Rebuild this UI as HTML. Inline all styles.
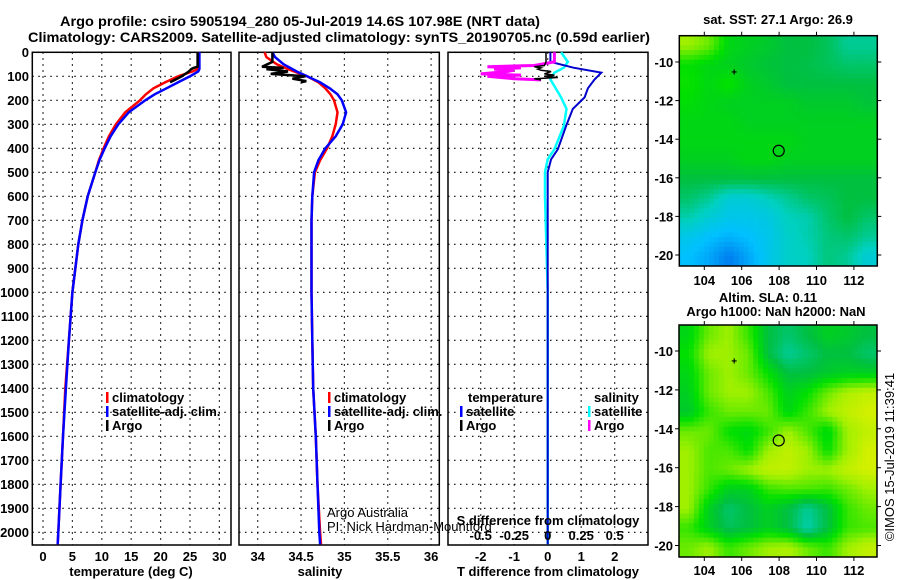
<!DOCTYPE html>
<html><head><meta charset="utf-8"><style>
html,body{margin:0;padding:0;background:#fff;}
svg{display:block;font-family:"Liberation Sans",Arial,sans-serif;}
.b{font-weight:bold;font-size:13px;}
.n{font-weight:normal;font-size:13px;}
.t{font-weight:bold;font-size:14px;}
</style></head><body>
<svg id="c" width="900" height="580" viewBox="0 0 900 580"></svg>
<script>
// ---------- data ----------
const depths = [0,20,50,70,80,100,125,150,175,200,250,300,350,400,450,500,600,700,800,1000,1200,1400,1600,1800,2000,2050];
const satT  = [26.6,26.6,26.6,26.6,26.4,25.0,23.0,21.0,19.0,17.4,14.6,12.8,11.5,10.5,9.6,8.9,7.6,6.7,6.0,5.0,4.4,3.9,3.4,3.0,2.6,2.5];
const climT = [26.5,26.5,26.5,26.3,25.4,23.0,20.8,18.8,17.5,16.5,14.0,12.4,11.2,10.3,9.5,8.9,7.6,6.7,6.0,5.0,4.4,3.8,3.4,3.0,2.6,2.5];
const argoDepths = [0,20,40,60,65,70,80,90,100,110,120,125];
const argoT = [26.3,26.3,26.3,26.3,25.6,25.2,24.8,24.2,23.6,22.8,22.0,21.6];
const satS  = [34.17,34.2,34.3,34.4,34.45,34.57,34.72,34.83,34.92,34.97,35.02,34.98,34.9,34.78,34.7,34.65,34.63,34.62,34.62,34.62,34.63,34.64,34.67,34.69,34.71,34.72];
const climS = [34.08,34.1,34.22,34.35,34.42,34.57,34.7,34.78,34.84,34.88,34.92,34.9,34.86,34.8,34.72,34.66,34.63,34.62,34.62,34.62,34.63,34.64,34.67,34.69,34.72,34.73];
const argoS = [34.17,34.17,34.17,34.05,34.3,34.1,34.35,34.15,34.55,34.4,34.56,34.5];
const dDepths = [0,40,64,85,113,150,188,236,307,404,446,500,600,1000,1500,2050];
const satTdiff = [0.08,0.08,0.77,1.6,1.4,1.2,1.1,0.75,0.55,0.3,0.1,0.0,0.0,0.0,0.0,0.0];
const satSdiff = [0.1,0.15,0.12,0.05,0.02,0.06,0.1,0.14,0.12,0.05,0.0,-0.02,-0.02,0.0,0.0,0.0];
const argoDiffDepths = [0,40,55,60,65,70,75,80,90,95,100,105,110,115];
const argoTdiff = [-0.05,-0.05,-0.1,-0.4,-0.2,-0.3,-0.2,0.1,-0.1,0.2,-0.1,0.3,-0.4,-0.2];
const argoSdiff = [0.05,0.05,-0.1,-0.45,-0.2,-0.4,-0.25,-0.3,-0.5,-0.2,-0.45,-0.35,-0.25,-0.05];
const depthTicks = [0,100,200,300,400,500,600,700,800,900,1000,1100,1200,1300,1400,1500,1600,1700,1800,1900,2000];
const tempTicks = [0,5,10,15,20,25,30];
const salTicks = [34,34.5,35,35.5,36];
const tdTicks = [-2,-1,0,1,2];
const sdTicks = [-0.5,-0.25,0,0.25,0.5];
const lonTicks = [104,106,108,110,112];
const latTicks = [-10,-12,-14,-16,-18,-20];
const sstGrid = [
[.8,.75,.62,.6,.58,.55,.55,.52,.45,.45],
[.65,.62,.6,.58,.56,.55,.54,.52,.5,.5],
[.66,.62,.66,.6,.58,.55,.55,.55,.55,.55],
[.64,.62,.6,.6,.6,.6,.58,.58,.58,.56],
[.62,.62,.62,.6,.6,.6,.6,.6,.6,.6],
[.62,.62,.62,.62,.62,.62,.6,.6,.6,.6],
[.6,.6,.6,.62,.62,.6,.6,.6,.6,.6],
[.55,.55,.55,.55,.55,.55,.55,.55,.55,.55],
[.5,.45,.35,.35,.4,.45,.5,.52,.55,.55],
[.42,.35,.3,.3,.32,.4,.42,.5,.55,.5],
[.3,.25,.22,.25,.3,.38,.42,.48,.5,.45],
[.25,.2,.12,.2,.3,.38,.4,.48,.45,.35]];
const slaGrid = [
[.62,.75,.8,.7,.55,.5,.55,.6,.58,.55],
[.65,.8,.8,.75,.55,.45,.5,.55,.55,.5],
[.62,.75,.8,.75,.65,.55,.55,.58,.6,.6],
[.6,.75,.8,.8,.72,.6,.65,.75,.82,.85],
[.58,.7,.75,.75,.75,.62,.7,.8,.85,.88],
[.75,.75,.65,.62,.7,.8,.72,.62,.8,.85],
[.8,.72,.72,.65,.8,.85,.8,.65,.8,.88],
[.8,.72,.75,.8,.85,.85,.8,.8,.85,.88],
[.8,.7,.6,.6,.7,.72,.72,.7,.75,.8],
[.8,.6,.5,.55,.6,.55,.45,.55,.7,.75],
[.7,.6,.52,.55,.6,.55,.42,.55,.7,.72],
[.75,.8,.7,.75,.8,.82,.75,.7,.8,.85]];

// ---------- helpers ----------
const svg = document.getElementById('c');
const NS = 'http://www.w3.org/2000/svg';
function mk(tag, attrs, parent, text){
  const e = document.createElementNS(NS, tag);
  for (const k in attrs) e.setAttribute(k, attrs[k]);
  if (text !== undefined) e.textContent = text;
  (parent||svg).appendChild(e);
  return e;
}
const TOP = 52.3, BOT = 545, PXM = 0.24;
const yD = d => TOP + d*PXM;
const xT = v => 43 + v*5.88;
const xS = v => 257.7 + (v-34)*86.7;
const xTD = v => 547.7 + v*33.5;
const xSD = v => 547.7 + v*134;

function linePath(xs, ds, fx){
  let p = '';
  for (let i=0;i<xs.length;i++){
    p += (i? 'L':'M') + fx(xs[i]).toFixed(1) + ',' + yD(ds[i]).toFixed(1);
  }
  return p;
}
function panel(name, x0, x1, ticks, fx){
  const g = mk('g', {});
  
  
  ticks.forEach(t => {
    const x = fx(t);
    const l = mk('line', {x1:x, x2:x, y1:TOP, y2:BOT, stroke:'#000', 'stroke-width':1.2, 'stroke-dasharray':'1.5,4.5'}, g);
    
    
  });
  depthTicks.forEach(d => {
    const l = mk('line', {x1:x0, x2:x1, y1:yD(d), y2:yD(d), stroke:'#000', 'stroke-width':1.2, 'stroke-dasharray':'1.5,4.5'}, g);
    
    
  });
  const r = mk('rect', {x:x0, y:TOP, width:x1-x0, height:BOT-TOP, fill:'none', stroke:'#000', 'stroke-width':1.5}, g);
  
  
  ticks.forEach(t => {
    const tx = mk('text', {x:fx(t), y:561, 'text-anchor':'middle', class:'b'}, g, String(t));
    
    
  });
  return g;
}
function line(g, d, color, w, name){
  const p = mk('path', {d:d, fill:'none', stroke:color, 'stroke-width':w, 'stroke-linejoin':'miter'}, g);
  
  
}
function txt(x, y, s, cls, anchor, name, extra){
  const a = {x:x, y:y, class:cls};
  if (anchor) a['text-anchor'] = anchor;
  if (extra) for (const k in extra) a[k]=extra[k];
  const t = mk('text', a, svg, s);
  
  
  return t;
}
function legendItem(x, y, color, label, name){
  const r = mk('rect', {x:x, y:y-10, width:2.5, height:11, fill:color});
  
  
  txt(x+6, y, label, 'b', null, name);
}

// ---------- titles ----------
txt(60, 26, 'Argo profile: csiro 5905194_280 05-Jul-2019 14.6S 107.98E (NRT data)', 't', null, 'chart-title', {textLength:480, lengthAdjust:'spacingAndGlyphs'});
txt(28, 42, 'Climatology: CARS2009. Satellite-adjusted climatology: synTS_20190705.nc (0.59d earlier)', 't', null, 'chart-subtitle', {textLength:622, lengthAdjust:'spacingAndGlyphs'});

depthTicks.forEach(d => {
  txt(29, yD(d)+4.5, String(d), 'b', 'end', 'y-tick-label');
});

// ---------- panel 1: temperature ----------
const g1 = panel('temperature-panel', 32.3, 231, tempTicks, xT);
line(g1, linePath(climT, depths, xT), '#f00', 2.5, 'climatology-temp-line');
line(g1, linePath(satT, depths, xT), '#00f', 2.5, 'satellite-temp-line');
line(g1, linePath(argoT, argoDepths, xT), '#000', 2.5, 'argo-temp-line');
txt(131, 576, 'temperature (deg C)', 'b', 'middle', 'x-axis-title-temperature');
legendItem(106, 402, '#f00', 'climatology', 'legend-climatology');
legendItem(106, 416, '#00f', 'satellite-adj. clim.', 'legend-satellite');
legendItem(106, 430, '#000', 'Argo', 'legend-argo');

// ---------- panel 2: salinity ----------
const g2 = panel('salinity-panel', 239, 439.3, salTicks, xS);
line(g2, linePath(climS, depths, xS), '#f00', 2.5, 'climatology-sal-line');
line(g2, linePath(satS, depths, xS), '#00f', 2.5, 'satellite-sal-line');
line(g2, linePath(argoS, argoDepths, xS), '#000', 2.5, 'argo-sal-line');
txt(320, 576, 'salinity', 'b', 'middle', 'x-axis-title-salinity');
legendItem(328, 402, '#f00', 'climatology', 'legend-climatology-sal');
legendItem(328, 416, '#00f', 'satellite-adj. clim.', 'legend-satellite-sal');
legendItem(328, 430, '#000', 'Argo', 'legend-argo-sal');
txt(327, 517, 'Argo Australia', 'n', null, 'credit-line-1');
txt(327, 531, 'PI: Nick Hardman-Mountford', 'n', null, 'credit-line-2');

// ---------- panel 3: differences ----------
const g3 = panel('difference-panel', 448, 648, tdTicks, xTD);
line(g3, linePath(satSdiff, dDepths, xSD), '#0ff', 2.5, 'satellite-sal-diff-line');
line(g3, linePath(satTdiff, dDepths, xTD), '#00c', 2, 'satellite-temp-diff-line');
line(g3, linePath(argoSdiff, argoDiffDepths, xSD), '#f0f', 3, 'argo-sal-diff-line');
line(g3, linePath(argoTdiff, argoDiffDepths, xTD), '#000', 1.5, 'argo-temp-diff-line');
sdTicks.forEach(t => txt(xSD(t), 540, String(t), 'b', 'middle', 's-diff-tick-label'));
txt(548, 525, 'S difference from climatology', 'b', 'middle', 's-diff-axis-title');
txt(548, 576, 'T difference from climatology', 'b', 'middle', 'x-axis-title-tdiff');
txt(468, 402, 'temperature', 'b', null, 'legend-temperature-header');
txt(594, 402, 'salinity', 'b', null, 'legend-salinity-header');
legendItem(460, 416, '#00f', 'satellite', 'legend-temp-satellite');
legendItem(460, 430, '#000', 'Argo', 'legend-temp-argo');
legendItem(588, 416, '#0ff', 'satellite', 'legend-sal-satellite');
legendItem(588, 430, '#f0f', 'Argo', 'legend-sal-argo');

// ---------- maps ----------
const stops = [[0,[0,64,224]],[0.25,[0,192,255]],[0.4,[0,208,192]],[0.55,[0,192,64]],[0.65,[0,224,0]],[0.8,[160,240,0]],[0.9,[224,240,0]],[1,[240,192,0]]];
function cmap(v){
  for (let i=1;i<stops.length;i++){
    if (v <= stops[i][0]){
      const a=stops[i-1], b=stops[i], f=(v-a[0])/(b[0]-a[0]);
      return 'rgb(' + a[1].map((c,j)=>Math.round(c+(b[1][j]-c)*f)).join(',') + ')';
    }
  }
  return 'rgb(240,192,0)';
}
function sample(grid, fr, fc){
  const rows = grid.length, cols = grid[0].length;
  const r = Math.min(Math.max(fr-0.5,0),rows-1), c = Math.min(Math.max(fc-0.5,0),cols-1);
  const r0 = Math.floor(r), c0 = Math.floor(c), r1 = Math.min(r0+1,rows-1), c1 = Math.min(c0+1,cols-1);
  const dr = r-r0, dc = c-c0;
  return grid[r0][c0]*(1-dr)*(1-dc)+grid[r0][c1]*(1-dr)*dc+grid[r1][c0]*dr*(1-dc)+grid[r1][c1]*dr*dc;
}
function map(name, grid, x0, y0, x1, y1, lat10y, latPx, labY){
  const g = mk('g', {});
  
  
  const rows = grid.length, cols = grid[0].length, SUB = 4;
  const cw = (x1-x0)/(cols*SUB), ch = (y1-y0)/(rows*SUB);
  for (let ri=0; ri<rows*SUB; ri++) for (let ci=0; ci<cols*SUB; ci++){
    const v = sample(grid, (ri+0.5)/SUB, (ci+0.5)/SUB);
    const c = mk('rect', {x:(x0+ci*cw).toFixed(2), y:(y0+ri*ch).toFixed(2), width:(cw+0.5).toFixed(2), height:(ch+0.5).toFixed(2), fill:cmap(v)}, g);
    
    
  }
  const lonX = l => 704.3 + (l-104)*18.7;
  const latY = l => lat10y + (-10-l)*latPx;
  const fr = mk('rect', {x:x0, y:y0, width:x1-x0, height:y1-y0, fill:'none', stroke:'#000', 'stroke-width':1.5}, g);
  
  
  lonTicks.forEach(l => {
    mk('line', {x1:lonX(l), x2:lonX(l), y1:y0-4, y2:y0, stroke:'#000'}, g);
    mk('line', {x1:lonX(l), x2:lonX(l), y1:y1, y2:y1+4, stroke:'#000'}, g);
    const t = mk('text', {x:lonX(l), y:labY, 'text-anchor':'middle', class:'b'}, g, String(l));
    
    
  });
  latTicks.forEach(l => {
    mk('line', {x1:x0-4, x2:x0, y1:latY(l), y2:latY(l), stroke:'#000'}, g);
    mk('line', {x1:x1, x2:x1+4, y1:latY(l), y2:latY(l), stroke:'#000'}, g);
    const t = mk('text', {x:x0-6, y:latY(l)+5, 'text-anchor':'end', class:'b'}, g, String(l));
    
    
  });
  const c = mk('circle', {cx:lonX(107.98), cy:latY(-14.6), r:5.5, fill:'none', stroke:'#000', 'stroke-width':1.2}, g);
  
  
  const s = mk('text', {x:lonX(105.6), y:latY(-10.5)+4, 'text-anchor':'middle', 'font-size':'10px', 'font-weight':'bold'}, g, '+');
  
  
}
txt(778, 24, 'sat. SST: 27.1 Argo: 26.9', 'b', 'middle', 'sst-map-title');
map('sst-map', sstGrid, 679.3, 35.7, 877.3, 266, 62, 19.3, 285);
txt(768, 302, 'Altim. SLA: 0.11', 'b', 'middle', 'sla-map-title');
txt(776, 316, 'Argo h1000: NaN h2000: NaN', 'b', 'middle', 'sla-map-subtitle');
map('sla-map', slaGrid, 679, 325, 877, 557, 351, 19.45, 575);

txt(0, 0, '©IMOS 15-Jul-2019 11:39:41', 'n', 'middle', 'timestamp', {transform:'translate(894,457) rotate(-90)'});
</script>
</body></html>
